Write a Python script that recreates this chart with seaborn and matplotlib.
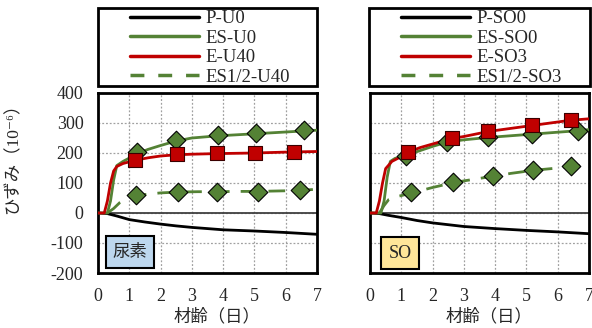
import numpy as np
import pandas as pd
import matplotlib
matplotlib.use("Agg")
import matplotlib.pyplot as plt
from matplotlib.lines import Line2D
from matplotlib.patches import Rectangle
import seaborn as sns

# --- data (days, strain x10^-6) ---
# left panel: 尿素
t_p_u0 = [0, 0.3, 0.6, 1.0, 1.5, 2.0, 2.5, 3.0, 4.0, 5.0, 6.0, 7.0]
p_u0 = [0, -2, -10, -22, -30, -37, -43, -48, -56, -60, -65, -71]

t_es_u0 = [0, 0.3, 0.4, 0.5, 0.6, 0.8, 1.0, 1.25, 1.6, 2.0, 2.5, 3.0, 3.8, 5.0, 6.0, 7.0]
es_u0 = [0, 0, 40, 110, 158, 172, 183, 198, 212, 225, 240, 250, 257, 264, 270, 276]

t_e_u40 = [0, 0.2, 0.3, 0.4, 0.5, 0.6, 0.8, 1.2, 1.6, 2.0, 2.5, 3.0, 3.8, 5.0, 6.0, 7.0]
e_u40 = [0, 0, 40, 100, 140, 155, 165, 176, 184, 190, 194, 196, 198, 200, 203, 205]

t_es12_u40 = [0.3, 0.5, 0.7, 0.9, 1.2, 1.6, 2.0, 2.6, 3.2, 3.8, 4.5, 5.1, 6.0, 6.5, 7.0]
es12_u40 = [0, 15, 35, 48, 57, 63, 67, 70, 71, 71, 72, 72, 74, 76, 79]

mk_es_u0_t = [1.24, 2.49, 3.84, 5.05, 6.59]
mk_es_u0 = [203, 243, 260, 265, 276]
mk_e_u40_t = [1.18, 2.53, 3.79, 5.03, 6.27]
mk_e_u40 = [177, 196, 200, 200, 204]
mk_es12_u40_t = [1.23, 2.56, 3.79, 5.12, 6.45]
mk_es12_u40 = [59, 71, 71, 71, 76]

# right panel: SO
t_p_so0 = [0, 0.3, 0.6, 1.0, 1.5, 2.0, 3.0, 4.0, 5.0, 6.0, 7.0]
p_so0 = [0, -2, -8, -15, -25, -33, -45, -52, -58, -63, -69]

t_es_so0 = [0, 0.35, 0.45, 0.55, 0.65, 0.8, 1.0, 1.15, 1.6, 2.0, 2.45, 3.0, 3.8, 5.2, 6.6, 7.0]
es_so0 = [0, 0, 40, 120, 172, 182, 188, 192, 208, 222, 236, 244, 252, 263, 274, 278]

t_e_so3 = [0, 0.2, 0.3, 0.4, 0.5, 0.7, 1.0, 1.22, 1.6, 2.0, 2.6, 3.0, 3.8, 5.2, 6.4, 7.0]
e_so3 = [0, 0, 40, 100, 148, 172, 188, 203, 218, 230, 248, 255, 272, 292, 309, 314]

t_es12_so3 = [0.3, 0.45, 0.6, 0.8, 1.0, 1.3, 2.0, 2.7, 3.3, 3.9, 4.5, 5.2, 6.0, 6.5, 7.0]
es12_so3 = [0, 25, 45, 54, 58, 66, 85, 102, 112, 122, 132, 142, 150, 156, 160]

mk_es_so0_t = [1.15, 2.45, 3.78, 5.17, 6.66]
mk_es_so0 = [190, 238, 252, 263, 274]
mk_e_so3_t = [1.22, 2.63, 3.78, 5.17, 6.44]
mk_e_so3 = [204, 249, 274, 293, 310]
mk_es12_so3_t = [1.31, 2.66, 3.92, 5.22, 6.44]
mk_es12_so3 = [69, 102, 123, 143, 157]

labels_left = ["P-U0", "ES-U0", "E-U40", "ES1/2-U40"]
labels_right = ["P-SO0", "ES-SO0", "E-SO3", "ES1/2-SO3"]

GREEN = "#548235"
RED = "#C00000"

sns.set_theme(style="white")
plt.rcParams["font.family"] = ["Liberation Serif", "Noto Sans CJK JP", "DejaVu Sans"]
plt.rcParams["axes.unicode_minus"] = False

W, H = 592, 328
fig = plt.figure(figsize=(W / 100, H / 100), dpi=100)


def fx(px):
    return px / W


def fy(px):
    return 1 - px / H


ax1 = fig.add_axes([fx(98), fy(273), fx(317) - fx(98), fy(93) - fy(273)])
ax2 = fig.add_axes([fx(370), fy(273), fx(589) - fx(370), fy(93) - fy(273)])


def draw_panel(ax, tp, p, tes, es, te, e, t12, e12, mk):
    ax.axhline(0, color="#404040", lw=1.3, zorder=1)
    sns.lineplot(x=tp, y=p, ax=ax, color="black", lw=2, zorder=3)
    sns.lineplot(x=tes, y=es, ax=ax, color=GREEN, lw=2, zorder=3)
    sns.lineplot(x=te, y=e, ax=ax, color=RED, lw=2, zorder=4)
    sns.lineplot(x=t12, y=e12, ax=ax, color=GREEN, lw=2, zorder=3)
    ax.lines[-1].set_dashes([6, 4])
    (mt1, mv1), (mt2, mv2), (mt3, mv3) = mk
    sns.scatterplot(x=mt1, y=mv1, ax=ax, marker="D", s=90, color=GREEN,
                    edgecolor="black", linewidth=0.8, zorder=5)
    sns.scatterplot(x=mt2, y=mv2, ax=ax, marker="s", s=95, color=RED,
                    edgecolor="#3a0000", linewidth=0.8, zorder=6)
    sns.scatterplot(x=mt3, y=mv3, ax=ax, marker="D", s=90, color=GREEN,
                    edgecolor="black", linewidth=0.8, zorder=5)
    ax.set_xlim(0, 7)
    ax.set_ylim(-200, 400)
    ax.set_xticks(range(0, 8))
    ax.set_yticks(range(-200, 401, 100))
    ax.grid(True, ls=(0, (1.5, 1.5)), color="#a0a0a0", lw=0.9, zorder=0)
    for s in ax.spines.values():
        s.set_color("black")
        s.set_linewidth(2)
    ax.tick_params(length=0, labelsize=13, pad=10.5)
    ax.set_xlabel("材齢（日）", fontsize=12.5)
    ax.xaxis.set_label_coords(0.545, -0.2)


draw_panel(ax1, t_p_u0, p_u0, t_es_u0, es_u0, t_e_u40, e_u40, t12=t_es12_u40, e12=es12_u40,
           mk=[(mk_es_u0_t, mk_es_u0), (mk_e_u40_t, mk_e_u40), (mk_es12_u40_t, mk_es12_u40)])
draw_panel(ax2, t_p_so0, p_so0, t_es_so0, es_so0, t_e_so3, e_so3, t12=t_es12_so3, e12=es12_so3,
           mk=[(mk_es_so0_t, mk_es_so0), (mk_e_so3_t, mk_e_so3), (mk_es12_so3_t, mk_es12_so3)])
ax2.set_yticklabels([])
ax1.set_ylabel("ひずみ（10⁻⁶）", fontsize=12.5)
ax1.yaxis.set_label_coords(-0.35, 0.66)

ax1.text(0.146, 0.117, "尿素", transform=ax1.transAxes, ha="center", va="center",
         fontsize=12.5, family=["Noto Sans CJK JP"],
         bbox=dict(boxstyle="square,pad=0.4", fc="#BDD7EE", ec="black", lw=1.5), zorder=7)
ax2.text(0.137, 0.111, "SO", transform=ax2.transAxes, ha="center", va="center",
         fontsize=13,
         bbox=dict(boxstyle="square,pad=0.4", fc="#FFE699", ec="black", lw=1.5), zorder=7)

# legends in boxes above each panel
for (x0, x1, hx), labels in [((98, 317, 130), labels_left), ((369, 590, 401), labels_right)]:
    fig.patches.append(Rectangle((fx(x0), fy(86)), fx(x1) - fx(x0), fy(8) - fy(86),
                                 transform=fig.transFigure, fill=False, ec="black", lw=2))
    handles = [Line2D([], [], color="black", lw=2.5),
               Line2D([], [], color=GREEN, lw=2.5),
               Line2D([], [], color=RED, lw=2.5),
               Line2D([], [], color=GREEN, lw=2.5, dashes=[4, 4])]
    fig.legend(handles, labels, loc="center left", bbox_to_anchor=(fx(hx), fy(48)),
               frameon=False, fontsize=13.5, handlelength=3.7, handletextpad=0.3,
               labelspacing=0.13, borderpad=0, borderaxespad=0)

fig.savefig("out.png", dpi=100)
